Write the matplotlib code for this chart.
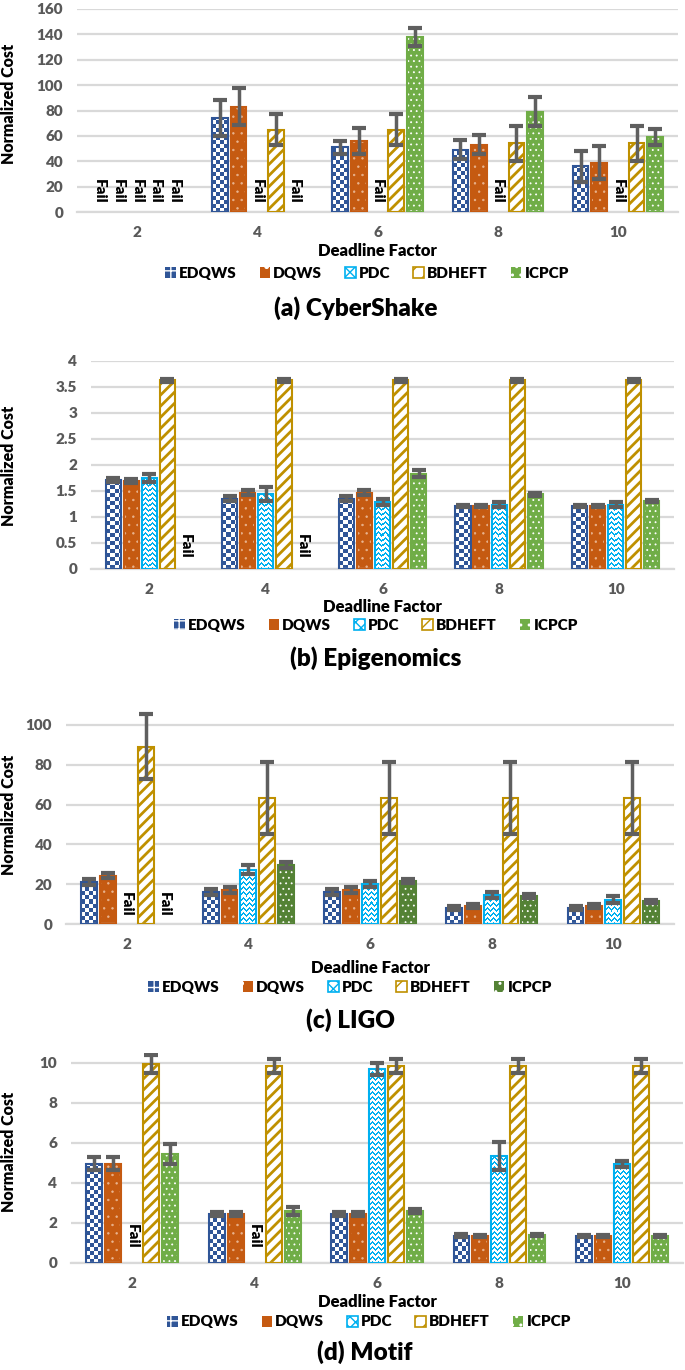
import numpy as np
import matplotlib
matplotlib.use("Agg")
import matplotlib.pyplot as plt
from matplotlib.patches import Patch
from matplotlib.colors import ListedColormap

plt.rcParams['font.family'] = ['Lato', 'DejaVu Sans']

W, H, DPI = 685, 1370, 100

factors = ['2', '4', '6', '8', '10']
algorithms = ['EDQWS', 'DQWS', 'PDC', 'BDHEFT', 'ICPCP']
nan = np.nan  # nan = "Fail"

# (a) CyberShake
cyber_edqws = [nan, 74, 51, 49, 36]
cyber_dqws = [nan, 83, 56, 53, 39]
cyber_pdc = [nan, nan, nan, nan, nan]
cyber_bdheft = [nan, 65, 65, 54, 54]
cyber_icpcp = [nan, nan, 138, 79, 59]
cyber_edqws_err = [0, 14, 5, 7.5, 12]
cyber_dqws_err = [0, 14.5, 10, 7.5, 13]
cyber_pdc_err = [0, 0, 0, 0, 0]
cyber_bdheft_err = [0, 12, 12, 14, 14]
cyber_icpcp_err = [0, 0, 7, 11.5, 6.5]

# (b) Epigenomics
epi_edqws = [1.71, 1.35, 1.35, 1.21, 1.21]
epi_dqws = [1.70, 1.47, 1.47, 1.21, 1.21]
epi_pdc = [1.75, 1.44, 1.29, 1.24, 1.24]
epi_bdheft = [3.63, 3.63, 3.63, 3.63, 3.63]
epi_icpcp = [nan, nan, 1.83, 1.44, 1.31]
epi_edqws_err = [0.04, 0.05, 0.05, 0.02, 0.02]
epi_dqws_err = [0.04, 0.04, 0.04, 0.02, 0.02]
epi_pdc_err = [0.08, 0.13, 0.06, 0.05, 0.04]
epi_bdheft_err = [0.03, 0.03, 0.03, 0.03, 0.03]
epi_icpcp_err = [0, 0, 0.07, 0.03, 0.02]

# (c) LIGO
ligo_edqws = [21.1, 15.9, 15.9, 8.0, 8.0]
ligo_dqws = [24.2, 17.2, 17.2, 8.9, 8.9]
ligo_pdc = [nan, 27.3, 20.1, 14.4, 12.2]
ligo_bdheft = [89.1, 63.2, 63.2, 63.2, 63.2]
ligo_icpcp = [nan, 29.8, 21.7, 14.2, 11.4]
ligo_edqws_err = [1.3, 1.5, 1.5, 0.8, 0.8]
ligo_dqws_err = [1.3, 1.5, 1.5, 1.0, 1.0]
ligo_pdc_err = [0, 2.2, 1.5, 1.5, 1.8]
ligo_bdheft_err = [16.5, 18, 18, 18, 18]
ligo_icpcp_err = [0, 1.5, 1.0, 1.0, 0.8]

# (d) Motif
motif_edqws = [4.97, 2.47, 2.47, 1.37, 1.35]
motif_dqws = [4.97, 2.47, 2.47, 1.35, 1.35]
motif_pdc = [nan, nan, 9.68, 5.35, 4.97]
motif_bdheft = [9.93, 9.85, 9.85, 9.85, 9.85]
motif_icpcp = [5.47, 2.60, 2.60, 1.40, 1.33]
motif_edqws_err = [0.33, 0.1, 0.1, 0.07, 0.06]
motif_dqws_err = [0.33, 0.1, 0.1, 0.07, 0.06]
motif_pdc_err = [0, 0, 0.3, 0.7, 0.15]
motif_bdheft_err = [0.45, 0.35, 0.35, 0.35, 0.35]
motif_icpcp_err = [0.5, 0.2, 0.12, 0.07, 0.05]

panels = [
    dict(title='(a) CyberShake',
         values=[cyber_edqws, cyber_dqws, cyber_pdc, cyber_bdheft, cyber_icpcp],
         errors=[cyber_edqws_err, cyber_dqws_err, cyber_pdc_err, cyber_bdheft_err, cyber_icpcp_err],
         ylim=(0, 160), yticks=np.arange(0, 161, 20), green='#70AD47',
         box=(77, 9, 678, 212), fail_y=16, df_y=251, leg=(367, 273), ttl=(356, 308), yl=104),
    dict(title='(b) Epigenomics',
         values=[epi_edqws, epi_dqws, epi_pdc, epi_bdheft, epi_icpcp],
         errors=[epi_edqws_err, epi_dqws_err, epi_pdc_err, epi_bdheft_err, epi_icpcp_err],
         ylim=(0, 4), yticks=np.arange(0, 4.01, 0.5), green='#70AD47',
         box=(91, 361, 674, 569), fail_y=0.44, df_y=607, leg=(376, 625), ttl=(376, 658), yl=466),
    dict(title='(c) LIGO',
         values=[ligo_edqws, ligo_dqws, ligo_pdc, ligo_bdheft, ligo_icpcp],
         errors=[ligo_edqws_err, ligo_dqws_err, ligo_pdc_err, ligo_bdheft_err, ligo_icpcp_err],
         ylim=(0, 108), yticks=np.arange(0, 101, 20), green='#548235',
         box=(66, 709, 674, 924), fail_y=10, df_y=968, leg=(350, 987), ttl=(350, 1020), yl=815),
    dict(title='(d) Motif',
         values=[motif_edqws, motif_dqws, motif_pdc, motif_bdheft, motif_icpcp],
         errors=[motif_edqws_err, motif_dqws_err, motif_pdc_err, motif_bdheft_err, motif_icpcp_err],
         ylim=(0, 10.5), yticks=np.arange(0, 11, 2), green='#70AD47',
         box=(71, 1053, 683, 1263), fail_y=1.33, df_y=1302, leg=(369, 1322), ttl=(365, 1352), yl=1152),
]

BLUE = '#2F5597'
ORANGE = '#C55A11'
CYAN = '#00B0F0'
GOLD = '#BF9000'
GRID = '#D9D9D9'
TICK = '#595959'
ERR = '#5F5F5F'
HEAVY = 'heavy'

fig = plt.figure(figsize=(W / DPI, H / DPI), dpi=DPI)


def add_texture(ax, bar, kind, color):
    x0, y0 = bar.get_x(), bar.get_y()
    x1, y1 = x0 + bar.get_width(), y0 + bar.get_height()
    (px0, py0), (px1, py1) = ax.transData.transform([(x0, y0), (x1, y1)])
    wpx, hpx = int(round(px1 - px0)), int(round(py1 - py0))
    if wpx < 1 or hpx < 1:
        return
    yy, xx = np.mgrid[0:hpx, 0:wpx]
    if kind == 'checker':
        arr = ((xx // 4 + yy // 4) % 2).astype(float)
    else:
        tri = np.abs((xx % 6) - 3)
        arr = (((yy + tri) % 5) < 2).astype(float)
    im = ax.imshow(arr, cmap=ListedColormap(['white', color]), vmin=0, vmax=1,
                   origin='lower', extent=(x0, x1, y0, y1),
                   interpolation='nearest', aspect='auto', zorder=2.5)
    im.set_clip_path(bar)


for p in panels:
    l, t, r, b = p['box']
    ax = fig.add_axes([l / W, 1 - b / H, (r - l) / W, (b - t) / H])
    ax.set_xlim(-0.5, 4.5)
    ax.set_ylim(*p['ylim'])
    ax.set_yticks(p['yticks'])
    ax.set_yticklabels(['{:g}'.format(v) for v in p['yticks']])
    ax.set_xticks(range(5))
    ax.set_xticklabels(factors)
    for s in ['top', 'right', 'left']:
        ax.spines[s].set_visible(False)
    ax.spines['bottom'].set_color(GRID)
    ax.spines['bottom'].set_linewidth(1.6)
    ax.tick_params(length=0, labelsize=11, labelcolor=TICK, pad=10)
    for lab in ax.get_xticklabels() + ax.get_yticklabels():
        lab.set_fontweight(HEAVY)
    ax.grid(axis='y', color=GRID, linewidth=1.6)
    ax.set_axisbelow(True)

    x = np.arange(5)
    slot, bw = 0.155, 0.13
    green = p['green']
    for k, name in enumerate(algorithms):
        xs = x + (k - 2) * slot
        vals = np.array(p['values'][k], float)
        err = np.array(p['errors'][k], float)
        ok = ~np.isnan(vals)
        if name == 'EDQWS':
            bars = ax.bar(xs[ok], vals[ok], bw, color=BLUE, linewidth=0, zorder=2)
            for br in bars:
                add_texture(ax, br, 'checker', BLUE)
            edge = BLUE
        elif name == 'DQWS':
            with plt.rc_context({'hatch.linewidth': 0.5}):
                ax.bar(xs[ok], vals[ok], bw, facecolor=ORANGE, edgecolor='#E9B48F',
                       hatch='..', linewidth=0, zorder=2)
            edge = ORANGE
        elif name == 'PDC':
            bars = ax.bar(xs[ok], vals[ok], bw, color='white', linewidth=0, zorder=2)
            for br in bars:
                add_texture(ax, br, 'zigzag', CYAN)
            edge = CYAN
        elif name == 'BDHEFT':
            with plt.rc_context({'hatch.linewidth': 2.0}):
                ax.bar(xs[ok], vals[ok], bw, facecolor='white', edgecolor=GOLD,
                       hatch='///', linewidth=0, zorder=2)
            edge = GOLD
        else:
            with plt.rc_context({'hatch.linewidth': 0.6}):
                ax.bar(xs[ok], vals[ok], bw, facecolor=green, edgecolor='white',
                       hatch='...', linewidth=0, zorder=2)
            edge = green
        ax.bar(xs[ok], vals[ok], bw, fill=False, edgecolor=edge, linewidth=1.5, zorder=3)
        has_err = ok & (err > 0)
        ax.errorbar(xs[has_err], vals[has_err], yerr=err[has_err], fmt='none',
                    ecolor=ERR, elinewidth=2.5, capsize=5, capthick=3, zorder=5)
        for xi in xs[~ok]:
            ax.text(xi, p['fail_y'], 'Fail', rotation=-90, ha='center', va='center',
                    fontsize=11, fontweight=HEAVY, color='black', zorder=6)
    ax.set_xlim(-0.5, 4.5)
    ax.set_ylim(*p['ylim'])

    cx = (l + r) / 2
    fig.text(cx / W, 1 - p['df_y'] / H, 'Deadline Factor', ha='center', va='center',
             fontsize=12, fontweight=HEAVY, color='black')
    fig.text(9 / W, 1 - p['yl'] / H, 'Normalized Cost', rotation=90, ha='center',
             va='center', fontsize=11.5, fontweight=HEAVY, color='black')
    fig.text(p['ttl'][0] / W, 1 - p['ttl'][1] / H, p['title'], ha='center', va='center',
             fontsize=17.5, fontweight=HEAVY, color='black')

    with plt.rc_context({'hatch.linewidth': 1.0}):
        handles = [
            Patch(facecolor=BLUE, edgecolor='white', hatch='++', linewidth=0, label='EDQWS'),
            Patch(facecolor=ORANGE, edgecolor='white', hatch='.', linewidth=0, label='DQWS'),
            Patch(facecolor='white', edgecolor=CYAN, hatch='xxx', linewidth=1.2, label='PDC'),
            Patch(facecolor='white', edgecolor=GOLD, hatch='//', linewidth=1.2, label='BDHEFT'),
            Patch(facecolor=green, edgecolor='white', hatch='..', linewidth=0, label='ICPCP'),
        ]
    fig.legend(handles=handles, loc='center', ncol=5,
               bbox_to_anchor=(p['leg'][0] / W, 1 - p['leg'][1] / H),
               frameon=False, prop=dict(size=11, weight=HEAVY),
               handlelength=0.7, handleheight=0.7, handletextpad=0.2,
               columnspacing=1.5, borderaxespad=0, borderpad=0)

fig.savefig('out.png', dpi=DPI)
